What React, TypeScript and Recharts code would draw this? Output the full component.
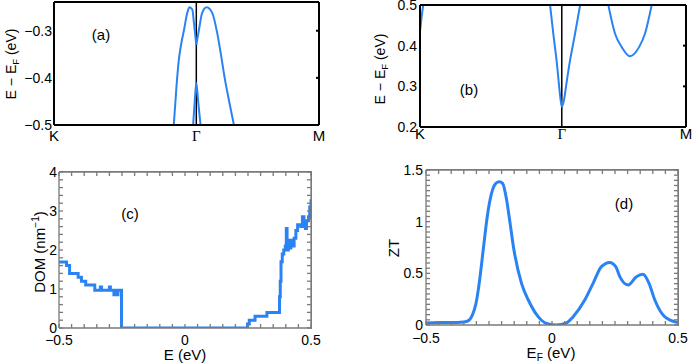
import React from "react";
import { LineChart, Line, XAxis, YAxis, ReferenceLine } from "recharts";

const BLUE = "#2a82f3";
const GRAY = "#7a7a7a";

// k-path positions (fraction of K -> M) and their labels
const kPathA = [0, 0.537, 1];
const kPathB = [0, 0.533, 1];
const kLabels = ["K", "\u0393", "M"];

// (a) valence bands near Gamma
const bandA1 = [
  { k: 0.452, e: -0.5 }, { k: 0.462, e: -0.42 }, { k: 0.471, e: -0.362 },
  { k: 0.481, e: -0.325 }, { k: 0.49, e: -0.3 }, { k: 0.503, e: -0.262 },
  { k: 0.511, e: -0.25 }, { k: 0.522, e: -0.255 }, { k: 0.528, e: -0.283 },
  { k: 0.537, e: -0.33 },
];
const bandA2 = [
  { k: 0.537, e: -0.33 }, { k: 0.547, e: -0.298 }, { k: 0.559, e: -0.262 },
  { k: 0.576, e: -0.25 }, { k: 0.597, e: -0.262 }, { k: 0.616, e: -0.305 },
  { k: 0.629, e: -0.347 }, { k: 0.644, e: -0.4 }, { k: 0.661, e: -0.45 },
  { k: 0.679, e: -0.5 },
];
const bandA3 = [
  { k: 0.525, e: -0.5 }, { k: 0.531, e: -0.45 }, { k: 0.537, e: -0.411 },
  { k: 0.544, e: -0.45 }, { k: 0.553, e: -0.5 },
];

// (b) conduction bands
const bandB1 = [{ k: 0, e: 0.434 }, { k: 0.006, e: 0.47 }, { k: 0.012, e: 0.5 }];
const bandB2 = [
  { k: 0.489, e: 0.5 }, { k: 0.501, e: 0.43 }, { k: 0.516, e: 0.348 },
  { k: 0.523, e: 0.3 }, { k: 0.529, e: 0.265 }, { k: 0.533, e: 0.25 },
  { k: 0.541, e: 0.265 }, { k: 0.549, e: 0.3 }, { k: 0.56, e: 0.348 },
  { k: 0.583, e: 0.43 }, { k: 0.602, e: 0.5 },
];
const bandB3 = [
  { k: 0.708, e: 0.5 }, { k: 0.733, e: 0.43 }, { k: 0.758, e: 0.397 },
  { k: 0.789, e: 0.374 }, { k: 0.824, e: 0.397 }, { k: 0.846, e: 0.43 },
  { k: 0.871, e: 0.5 },
];

// (c) density of modes
const dom = [
  { e: -0.5, d: 1.69 }, { e: -0.47, d: 1.6 }, { e: -0.458, d: 1.4 },
  { e: -0.424, d: 1.3 }, { e: -0.411, d: 1.2 }, { e: -0.394, d: 1.1 },
  { e: -0.358, d: 0.97 }, { e: -0.336, d: 1.05 }, { e: -0.331, d: 0.97 },
  { e: -0.3, d: 1.05 }, { e: -0.296, d: 0.97 }, { e: -0.282, d: 0.85 },
  { e: -0.278, d: 0.97 }, { e: -0.27, d: 0.85 }, { e: -0.266, d: 0.97 },
  { e: -0.252, d: 0 }, { e: 0.248, d: 0.1 }, { e: 0.255, d: 0.2 },
  { e: 0.278, d: 0.3 }, { e: 0.325, d: 0.4 }, { e: 0.375, d: 0.8 },
  { e: 0.378, d: 1.2 }, { e: 0.381, d: 1.7 }, { e: 0.386, d: 1.9 },
  { e: 0.392, d: 2.0 }, { e: 0.398, d: 2.1 }, { e: 0.402, d: 2.55 },
  { e: 0.405, d: 2.0 }, { e: 0.41, d: 2.25 }, { e: 0.415, d: 2.05 },
  { e: 0.42, d: 2.25 }, { e: 0.428, d: 2.1 }, { e: 0.433, d: 2.3 },
  { e: 0.44, d: 2.5 }, { e: 0.447, d: 2.65 }, { e: 0.46, d: 2.6 },
  { e: 0.466, d: 2.85 }, { e: 0.472, d: 2.65 }, { e: 0.478, d: 2.55 },
  { e: 0.482, d: 2.75 }, { e: 0.49, d: 2.85 }, { e: 0.495, d: 3.1 },
  { e: 0.5, d: 3.3 },
];

// (d) figure of merit
const zt = [
  { e: -0.5, z: 0.02 }, { e: -0.45, z: 0.025 }, { e: -0.4, z: 0.025 },
  { e: -0.35, z: 0.03 }, { e: -0.33, z: 0.045 }, { e: -0.319, z: 0.081 },
  { e: -0.299, z: 0.242 }, { e: -0.289, z: 0.403 }, { e: -0.273, z: 0.726 },
  { e: -0.257, z: 1.048 }, { e: -0.246, z: 1.21 }, { e: -0.223, z: 1.371 },
  { e: -0.209, z: 1.387 }, { e: -0.196, z: 1.371 }, { e: -0.18, z: 1.21 },
  { e: -0.17, z: 1.048 }, { e: -0.151, z: 0.726 }, { e: -0.121, z: 0.403 },
  { e: -0.094, z: 0.242 }, { e: -0.055, z: 0.081 }, { e: -0.022, z: 0.016 },
  { e: 0.018, z: 0.0 }, { e: 0.057, z: 0.02 }, { e: 0.084, z: 0.081 },
  { e: 0.13, z: 0.242 }, { e: 0.163, z: 0.403 }, { e: 0.196, z: 0.565 },
  { e: 0.229, z: 0.606 }, { e: 0.253, z: 0.565 }, { e: 0.269, z: 0.468 },
  { e: 0.302, z: 0.387 }, { e: 0.335, z: 0.468 }, { e: 0.361, z: 0.49 },
  { e: 0.385, z: 0.403 }, { e: 0.408, z: 0.242 }, { e: 0.447, z: 0.081 },
  { e: 0.5, z: 0.023 },
];

const majorE = [-0.5, 0, 0.5];
const majorDom = [0, 1, 2, 3, 4];
const majorZt = [0, 0.5, 1, 1.5];
const ticksA = [-0.5, -0.4, -0.3];
const ticksB = [0.2, 0.3, 0.4, 0.5];

const range = (a: number, b: number, s: number) => {
  const out: number[] = [];
  for (let v = a; v <= b + 1e-9; v += s) out.push(Math.round(v * 1e6) / 1e6);
  return out;
};
const minorE = range(-0.5, 0.5, 0.05);
const minorDom = range(0, 4, 0.2);
const minorZt = range(0, 1.5, 0.05);

const fmt = (v: number) => (v < 0 ? "\u2212" + Math.abs(v) : String(v));

const NumTick = (props: any) => {
  const { x, y, payload, majors, side, fs } = props;
  const v = payload.value;
  if (!majors.some((m: number) => Math.abs(m - v) < 1e-6)) return <g />;
  if (side === "left")
    return (
      <text x={x} y={y} dy="0.355em" textAnchor="end" fontSize={fs} fill="#000">
        {fmt(v)}
      </text>
    );
  return (
    <text x={x} y={y} dy="0.71em" textAnchor="middle" fontSize={fs} fill="#000">
      {fmt(v)}
    </text>
  );
};

const NoTick = () => <g />;

const KTick = (props: any) => {
  const { x, y, payload, path } = props;
  const i = path.findIndex((p: number) => Math.abs(p - payload.value) < 1e-6);
  const lab = kLabels[i] ?? "";
  return (
    <text
      x={x}
      y={y}
      dy="0.71em"
      textAnchor="middle"
      fontSize={15}
      fill="#000"
      fontFamily={lab === "\u0393" ? "Liberation Serif" : undefined}
    >
      {lab}
    </text>
  );
};

const lbl: React.CSSProperties = { position: "absolute", whiteSpace: "nowrap", color: "#000" };
const Txt = ({ x, y, rot, size, children }: any) => (
  <div
    style={{
      ...lbl,
      left: x,
      top: y,
      fontSize: size,
      lineHeight: 1,
      transform: `translate(-50%, -50%)${rot ? " rotate(-90deg)" : ""}`,
    }}
  >
    {children}
  </div>
);

// top/right edges of the lower plot boxes
const Box = ({ l, t, w, h }: any) => (
  <div
    style={{
      position: "absolute",
      left: l,
      top: t,
      width: w,
      height: h,
      boxSizing: "border-box",
      borderTop: `1px solid ${GRAY}`,
      borderRight: `1px solid ${GRAY}`,
      pointerEvents: "none",
    }}
  />
);

const sub = { fontSize: "0.68em", verticalAlign: "-0.35em" };
const frame = { stroke: GRAY, strokeWidth: 1.3 };

export default function App() {
  return (
    <div
      style={{
        position: "absolute",
        left: 0,
        top: 0,
        width: 692,
        height: 364,
        background: "#fff",
        fontFamily: "'Liberation Sans', Arial, sans-serif",
        overflow: "hidden",
      }}
    >
      {/* (a) */}
      <div style={{ position: "absolute", left: 0, top: 0 }}>
        <LineChart width={335} height={150} margin={{ top: 1, right: 15, bottom: 0, left: 0 }}>
          <XAxis
            dataKey="k"
            type="number"
            domain={[0, 1]}
            ticks={kPathA}
            interval={0}
            allowDataOverflow
            height={25}
            axisLine={{ stroke: "#000", strokeWidth: 2 }}
            tickLine={false}
            tickSize={0}
            tickMargin={5}
            tick={(p: any) => <KTick {...p} path={kPathA} />}
          />
          <XAxis xAxisId="top" orientation="top" dataKey="k" type="number" domain={[0, 1]} allowDataOverflow
            height={1} ticks={[0, 1]} interval={0} tick={NoTick} tickLine={false}
            axisLine={{ stroke: "#000", strokeWidth: 2 }} />
          <YAxis
            type="number"
            domain={[-0.5, -0.239]}
            allowDataOverflow
            ticks={ticksA}
            interval={0}
            width={54}
            axisLine={{ stroke: "#000", strokeWidth: 2 }}
            tickLine={false}
            tickSize={0}
            tickMargin={2}
            tick={(p: any) => <NumTick {...p} majors={ticksA} side="left" fs={14} />}
          />
          <YAxis yAxisId="right" orientation="right" type="number" domain={[-0.5, -0.239]} allowDataOverflow
            width={1} ticks={ticksA} interval={0} tick={NoTick} tickSize={-3}
            tickLine={{ stroke: "#000", strokeWidth: 2 }}
            axisLine={{ stroke: "#000", strokeWidth: 2 }} />
          <ReferenceLine x={kPathA[1]} stroke="#000" strokeWidth={1.5} />
          {[bandA1, bandA2, bandA3].map((b, i) => (
            <Line key={i} data={b} dataKey="e" type="monotone" stroke={BLUE} strokeWidth={2}
              dot={false} activeDot={false} isAnimationActive={false} />
          ))}
        </LineChart>
      </div>

      {/* (b) */}
      <div style={{ position: "absolute", left: 345, top: 0 }}>
        <LineChart width={347} height={150} margin={{ top: 4, right: 5, bottom: 0, left: 0 }}>
          <XAxis
            dataKey="k"
            type="number"
            domain={[0, 1]}
            ticks={kPathB}
            interval={0}
            allowDataOverflow
            height={23}
            axisLine={{ stroke: "#000", strokeWidth: 2 }}
            tickLine={false}
            tickSize={0}
            tickMargin={1}
            tick={(p: any) => <KTick {...p} path={kPathB} />}
          />
          <XAxis xAxisId="top" orientation="top" dataKey="k" type="number" domain={[0, 1]} allowDataOverflow
            height={1} ticks={[0, 1]} interval={0} tick={NoTick} tickLine={false}
            axisLine={{ stroke: "#000", strokeWidth: 2 }} />
          <YAxis
            type="number"
            domain={[0.2, 0.5]}
            allowDataOverflow
            ticks={ticksB}
            interval={0}
            width={75}
            axisLine={{ stroke: "#000", strokeWidth: 2 }}
            tickLine={false}
            tickSize={0}
            tickMargin={3}
            tick={(p: any) => <NumTick {...p} majors={ticksB} side="left" fs={14} />}
          />
          <YAxis yAxisId="right" orientation="right" type="number" domain={[0.2, 0.5]} allowDataOverflow
            width={1} ticks={ticksB} interval={0} tick={NoTick} tickSize={-3}
            tickLine={{ stroke: "#000", strokeWidth: 2 }}
            axisLine={{ stroke: "#000", strokeWidth: 2 }} />
          <ReferenceLine x={kPathB[1]} stroke="#000" strokeWidth={1.5} />
          {[bandB1, bandB2, bandB3].map((b, i) => (
            <Line key={i} data={b} dataKey="e" type="monotone" stroke={BLUE} strokeWidth={2}
              dot={false} activeDot={false} isAnimationActive={false} />
          ))}
        </LineChart>
      </div>

      {/* (c) */}
      <div style={{ position: "absolute", left: 0, top: 150 }}>
        <LineChart width={345} height={214} margin={{ top: 21, right: 33, bottom: 0, left: 0 }}>
          <XAxis
            dataKey="e"
            type="number"
            domain={[-0.5, 0.5]}
            allowDataOverflow
            ticks={minorE}
            interval={0}
            height={36}
            axisLine={frame}
            tickLine={frame}
            tickSize={-4}
            tickMargin={11}
            tick={(p: any) => <NumTick {...p} majors={majorE} side="bottom" fs={14} />}
          />
          <XAxis xAxisId="top" orientation="top" dataKey="e" type="number" domain={[-0.5, 0.5]} allowDataOverflow
            height={1} ticks={minorE} interval={0} tick={NoTick} tickSize={-4}
            tickLine={frame} axisLine={frame} />
          <YAxis
            type="number"
            domain={[0, 4]}
            allowDataOverflow
            ticks={minorDom}
            interval={0}
            width={59}
            axisLine={frame}
            tickLine={frame}
            tickSize={-4}
            tickMargin={6}
            tick={(p: any) => <NumTick {...p} majors={majorDom} side="left" fs={14} />}
          />
          <YAxis yAxisId="right" orientation="right" type="number" domain={[0, 4]} allowDataOverflow
            width={1} ticks={minorDom} interval={0} tick={NoTick} tickSize={-4}
            tickLine={frame} axisLine={frame} />
          <Line data={dom} dataKey="d" type="stepAfter" stroke={BLUE} strokeWidth={3}
            dot={false} activeDot={false} isAnimationActive={false} />
        </LineChart>
      </div>

      {/* (d) */}
      <div style={{ position: "absolute", left: 345, top: 150 }}>
        <LineChart width={347} height={214} margin={{ top: 19, right: 13, bottom: 0, left: 0 }}>
          <XAxis
            dataKey="e"
            type="number"
            domain={[-0.5, 0.5]}
            allowDataOverflow
            ticks={minorE}
            interval={0}
            height={39}
            axisLine={frame}
            tickLine={frame}
            tickSize={-4}
            tickMargin={12}
            tick={(p: any) => <NumTick {...p} majors={majorE} side="bottom" fs={14} />}
          />
          <XAxis xAxisId="top" orientation="top" dataKey="e" type="number" domain={[-0.5, 0.5]} allowDataOverflow
            height={1} ticks={minorE} interval={0} tick={NoTick} tickSize={-4}
            tickLine={frame} axisLine={frame} />
          <YAxis
            type="number"
            domain={[0, 1.5]}
            allowDataOverflow
            ticks={minorZt}
            interval={0}
            width={81}
            axisLine={frame}
            tickLine={frame}
            tickSize={-4}
            tickMargin={7}
            tick={(p: any) => <NumTick {...p} majors={majorZt} side="left" fs={14} />}
          />
          <YAxis yAxisId="right" orientation="right" type="number" domain={[0, 1.5]} allowDataOverflow
            width={1} ticks={minorZt} interval={0} tick={NoTick} tickSize={-4}
            tickLine={frame} axisLine={frame} />
          <Line data={zt} dataKey="z" type="monotone" stroke={BLUE} strokeWidth={3}
            dot={false} activeDot={false} isAnimationActive={false} />
        </LineChart>
      </div>

      <Box l={59} t={171} w={253} h={158} />
      <Box l={426} t={169} w={253} h={157} />

      {/* axis titles and panel tags */}
      <Txt x={12} y={64} rot size={14}>E − E<span style={sub}>F</span> (eV)</Txt>
      <Txt x={381} y={69} rot size={14}>E − E<span style={sub}>F</span> (eV)</Txt>
      <Txt x={39} y={252} rot size={15}>DOM (nm<sup style={{ fontSize: "0.68em" }}>−1</sup>)</Txt>
      <Txt x={393} y={248} rot size={15}>ZT</Txt>
      <Txt x={185} y={354} size={15}>E (eV)</Txt>
      <Txt x={551} y={354} size={15}>E<span style={sub}>F</span> (eV)</Txt>
      <Txt x={101} y={34} size={15}>(a)</Txt>
      <Txt x={469} y={89} size={15}>(b)</Txt>
      <Txt x={130} y={213} size={15}>(c)</Txt>
      <Txt x={624} y={203} size={15}>(d)</Txt>
    </div>
  );
}
